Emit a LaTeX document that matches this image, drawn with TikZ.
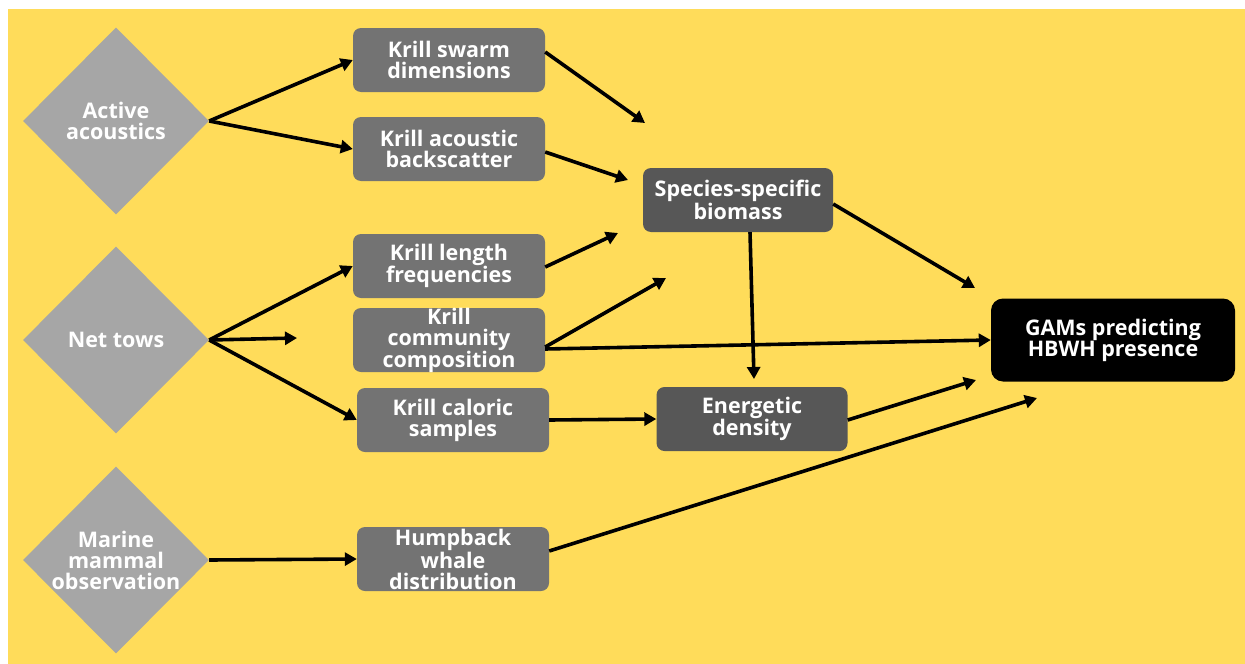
\documentclass[tikz,border=0pt]{standalone}
\usepackage{fontspec}
\setmainfont{Open Sans}
\usetikzlibrary{shapes.geometric,arrows.meta}
\definecolor{bgyellow}{HTML}{FFDC5A}
\definecolor{diagray}{HTML}{A6A6A6}
\definecolor{boxgray}{HTML}{737373}
\definecolor{darkgray}{HTML}{575757}
\definecolor{txtwhite}{HTML}{FFFFFF}
\newcommand{\dtext}[1]{\makebox[0pt]{\smash{\raisebox{-5.4pt}{\parbox[c]{200pt}{\centering #1}}}}}
\tikzset{
  txt/.style={font=\fontsize{21.5}{21}\selectfont\bfseries, text=txtwhite, align=center},
  dia/.style={txt, shape=diamond, fill=diagray, inner sep=0pt, minimum width=186pt, minimum height=187pt},
  gbox/.style={txt, rectangle, rounded corners=8pt, fill=boxgray, inner sep=0pt, minimum width=192pt, minimum height=64pt},
  dbox/.style={gbox, fill=darkgray},
  bbox/.style={txt, rectangle, rounded corners=12pt, fill=black, inner sep=0pt, minimum width=244pt, minimum height=83pt},
  arr/.style={line width=3.6pt, -{Triangle[length=12pt,width=13pt]}}
}
\begin{document}
\begin{tikzpicture}[x=1pt,y=-1pt]
\useasboundingbox (0,0) rectangle (1245,664);
\fill[white] (0,0) rectangle (1245,664);
\fill[bgyellow] (8,9) rectangle (1245,664);

\node[dia] (aa) at (116,121) {\dtext{Active\\acoustics}};
\node[dia] (nt) at (116,340) {\dtext{Net tows}};
\node[dia] (mm) at (116,560) {\dtext{Marine\\mammal\\observation}};

\node[gbox] (ksd) at (449,60) {Krill swarm\\dimensions};
\node[gbox] (kab) at (449,149) {Krill acoustic\\backscatter};
\node[gbox] (klf) at (449,266) {Krill length\\frequencies};
\node[gbox] (kcc) at (449,340) {\dtext{Krill\\community\\composition}};
\node[gbox] (kcs) at (453,420) {Krill caloric\\samples};
\node[gbox] (hwd) at (453,559) {\dtext{Humpback\\whale\\distribution}};

\node[dbox, minimum width=190pt] (ssb) at (738,200) {Species-specific\\biomass};
\node[dbox, minimum width=191pt] (ed) at (752,419) {Energetic\\density};

\node[bbox] (gam) at (1113,340) {GAMs predicting\\HBWH presence};

\coordinate (c1) at (645,123);
\coordinate (c2) at (628,180);
\coordinate (c3) at (618,233);
\coordinate (c4) at (666,278);
\coordinate (c5) at (297,338);
\coordinate (c6) at (754,379);
\coordinate (c7) at (975,288);
\coordinate (c8) at (976,380);
\coordinate (c9) at (1037,398);

\draw[arr] (aa.east) -- (ksd.west);
\draw[arr] (aa.east) -- (kab.west);
\draw[arr] ([yshift=8pt]ksd.east) -- (c1);
\draw[arr] ([yshift=-3pt]kab.east) -- (c2);
\draw[arr] ([yshift=-1pt]klf.east) -- (c3);
\draw[arr] ([yshift=-7pt]kcc.east) -- (c4);
\draw[arr] ([yshift=-9pt]kcc.east) -- (gam.west);
\draw[arr] (nt.east) -- (klf.west);
\draw[arr] (nt.east) -- (c5);
\draw[arr] (nt.east) -- (kcs.west);
\draw[arr] (kcs.east) -- (ed.west);
\draw[arr] ([xshift=12pt]ssb.south) -- (c6);
\draw[arr] ([yshift=-4pt]ssb.east) -- (c7);
\draw[arr] ([yshift=-1pt]ed.east) -- (c8);
\draw[arr] ([yshift=8pt]hwd.east) -- (c9);
\draw[arr] (mm.east) -- (hwd.west);
\end{tikzpicture}
\end{document}
